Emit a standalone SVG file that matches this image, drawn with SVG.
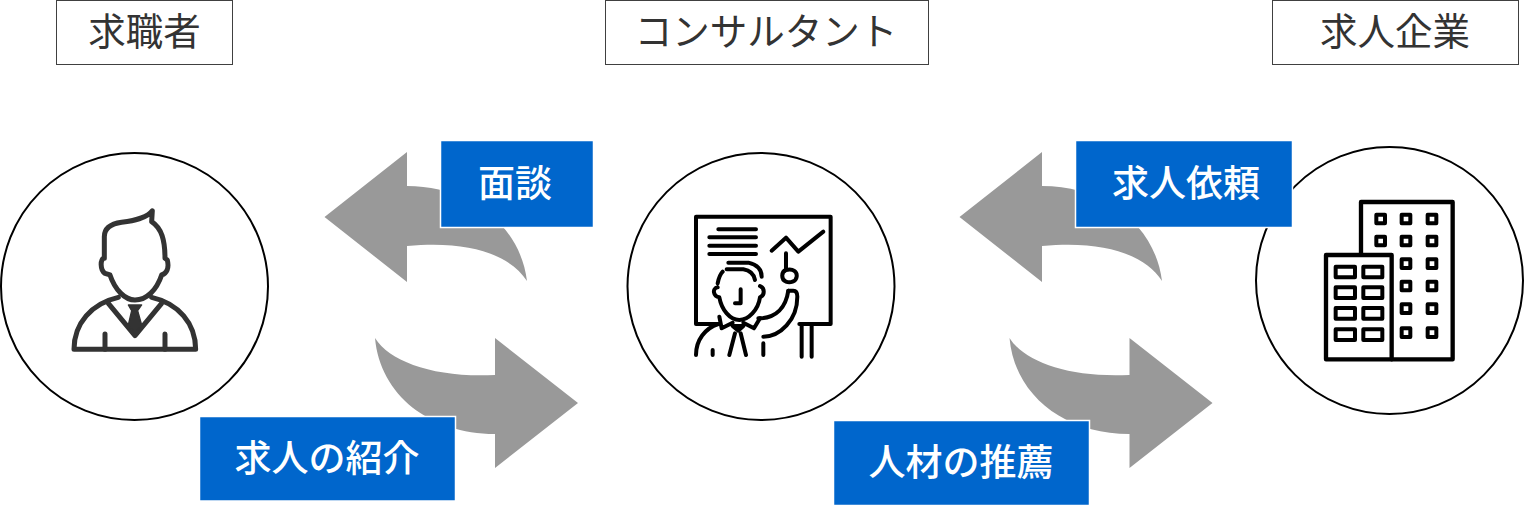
<svg xmlns="http://www.w3.org/2000/svg" width="1524" height="507" viewBox="0 0 1524 507">
<style>
text{font-family:"Noto Sans CJK JP","Noto Sans",sans-serif;text-anchor:middle}
.hd rect{fill:#fff;stroke:#404040;stroke-width:1}
.hd text{font-size:37.500px;fill:#333}
.lb rect{fill:#0066cc;stroke:#fff;stroke-width:1.500}
.lb text{font-size:37px;fill:#fff;font-weight:500}
.circle{fill:#fff;stroke:#000;stroke-width:2}
.arr{fill:#999}
.ic{fill:none;stroke-linecap:round;stroke-linejoin:round}
</style>
<defs>
<path id="al" d="M324.500 217L407 152V186C470 186 520 225 527 281C510 255 470 240 407 246V282Z"/>
<path id="ar" d="M375 338C390 362 435 378 495 375V338L578 403L495 468V434C430 434 380 395 375 338Z"/>
</defs>
<g id="connectors" class="arr">
<use href="#al"/>
<use href="#ar"/>
<use href="#al" x="635"/>
<use href="#ar" x="634.500"/>
</g>
<g id="h1" class="hd"><rect x="56.500" y="0.500" width="176" height="64"/><text x="144.500" y="45">求職者</text></g>
<g id="h2" class="hd"><rect x="605.500" y="0.500" width="323" height="64"/><text x="766" y="45">コンサルタント</text></g>
<g id="h3" class="hd"><rect x="1272.500" y="0.500" width="246" height="64"/><text x="1395" y="45">求人企業</text></g>
<g id="seeker">
<circle class="circle" cx="134.500" cy="286.500" r="133.500"/>
<g transform="translate(50 190) scale(.3333)" class="ic" stroke="#333" stroke-width="15">
<path d="M180 255C195 300 225 330 255 330C290 330 320 300 335 255C350 250 358 235 352 210L345 205C345 150 335 115 305 95L307 62C290 85 250 92 215 97C180 102 163 115 163 140V205C150 205 150 240 165 250Z"/>
<path d="M72 478H437C437 400 385 340 305 322M72 478C72 400 125 340 205 322"/>
<path d="M175 340L255 437L335 340M165 432V478M345 432V478"/>
<path d="M235 345H275L263 362H245ZM245 362H263L275 405L255 430L235 405Z" fill="#333" stroke-width="4"/>
</g>
</g>
<g id="consultant">
<circle class="circle" cx="761" cy="286.500" r="133.500"/>
<g transform="translate(680 200) scale(.3333)" class="ic" stroke="#000" stroke-width="12">
<path d="M118 372H48V50H452V372H358"/>
<path d="M115 88H228M88 112H228M88 137H228M88 162H228"/>
<path d="M275 152L318 113L355 155L430 95"/>
<path d="M318 160V210C340 205 352 215 350 230C348 245 330 250 318 245C303 240 303 215 318 210"/>
<path d="M325 272C318 320 290 355 235 355"/>
<path d="M325 272H340Q352 272 352 290C352 360 300 410 250 410"/>
<path d="M250 430V465M98 450V465M48 465C48 420 75 385 115 372"/>
<path d="M145 188H205C235 195 245 210 245 230M140 208H190C215 212 222 225 225 240"/>
<path d="M128 215C118 225 115 240 113 250M113 262C95 265 100 290 118 292C125 330 150 360 178 360C205 360 235 330 240 292C255 285 255 265 240 258"/>
<path d="M182 268V310H165"/>
<path d="M118 350L125 385L158 368M240 355L222 385L190 368M158 378H190L175 392Z"/>
<path d="M165 400L148 465M182 400L198 465M365 372V470M395 372V470"/>
</g>
</g>
<g id="company">
<circle class="circle" cx="1389.500" cy="280.500" r="133.500"/>
<g transform="translate(1310 190) scale(.3333)" class="ic" stroke="#000" stroke-width="13">
<path d="M153 190V36H428V508H245"/>
<rect x="48" y="195" width="197" height="313"/>
<g stroke-width="12">
<rect x="199" y="74" width="26" height="26"/><rect x="275" y="74" width="26" height="26"/><rect x="353" y="74" width="26" height="26"/>
<rect x="199" y="140" width="26" height="26"/><rect x="275" y="140" width="26" height="26"/><rect x="353" y="140" width="26" height="26"/>
<rect x="275" y="208" width="26" height="26"/><rect x="353" y="208" width="26" height="26"/>
<rect x="275" y="275" width="26" height="26"/><rect x="353" y="275" width="26" height="26"/>
<rect x="275" y="343" width="26" height="26"/><rect x="353" y="343" width="26" height="26"/>
<rect x="275" y="415" width="26" height="26"/><rect x="353" y="415" width="26" height="26"/>
<rect x="77" y="230" width="58" height="32"/><rect x="160" y="230" width="57" height="32"/>
<rect x="77" y="292" width="58" height="32"/><rect x="160" y="292" width="57" height="32"/>
<rect x="77" y="354" width="58" height="32"/><rect x="160" y="354" width="57" height="32"/>
<rect x="77" y="418" width="58" height="32"/><rect x="160" y="418" width="57" height="32"/>
</g>
</g>
</g>
<g id="l1" class="lb"><rect x="440.500" y="140.500" width="153" height="87"/><text x="515" y="197">面談</text></g>
<g id="l2" class="lb"><rect x="199.500" y="416.500" width="256" height="84.500"/><text x="327" y="472">求人の紹介</text></g>
<g id="l3" class="lb"><rect x="1075.500" y="140.500" width="217" height="87"/><text x="1186" y="197">求人依頼</text></g>
<g id="l4" class="lb"><rect x="833.500" y="420.500" width="256" height="85"/><text x="961" y="476">人材の推薦</text></g>
</svg>
